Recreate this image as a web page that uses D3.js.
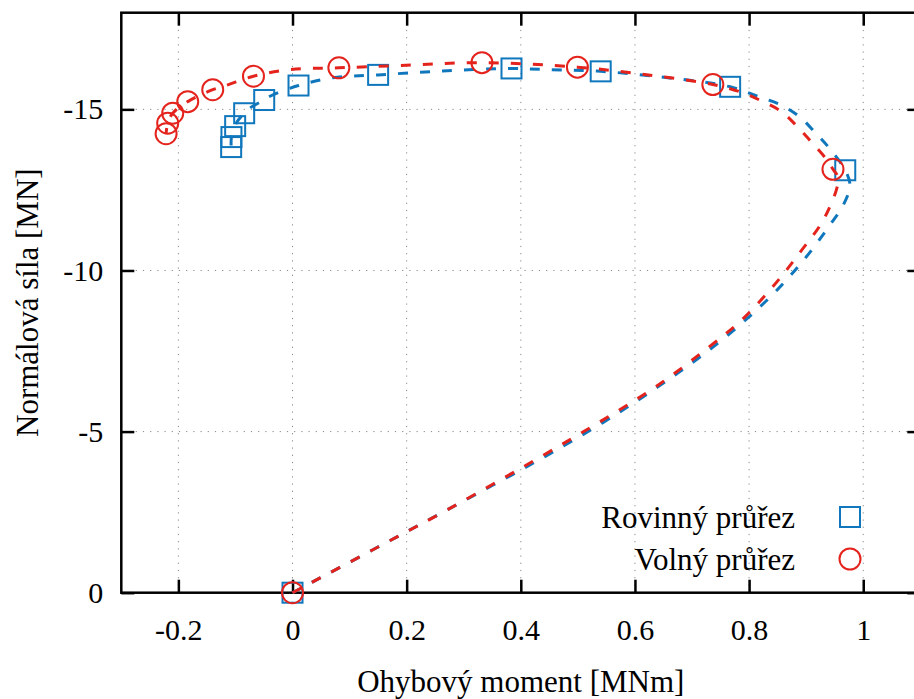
<!DOCTYPE html>
<html>
<head>
<meta charset="utf-8">
<script src="https://cdn.jsdelivr.net/npm/d3@7"></script>
<style>
  body { margin: 0; background: #fff; }
  svg text { font-family: "Liberation Serif", "Times New Roman", serif; }
</style>
</head>
<body>
<div id="chart"></div>
<script>
// ohybovy moment [MNm], normalova sila [MN]
var rovinnyLine = [
    [0, 0], [0.1408, -1.333], [0.2758, -2.617], [0.4436, -4.239], [0.5430, -5.271],
    [0.6072, -5.997], [0.6698, -6.750], [0.7312, -7.547], [0.7913, -8.425], [0.8469, -9.355],
    [0.8978, -10.369], [0.9434, -11.454], [0.9649, -12.022], [0.9767, -12.642], [0.9685, -13.11],
    [0.9404, -13.80], [0.9153, -14.29], [0.8878, -14.78], [0.8552, -15.14], [0.8189, -15.38],
    [0.7668, -15.70], [0.6733, -15.95], [0.540, -16.18], [0.4384, -16.24], [0.3837, -16.27],
    [0.2630, -16.19], [0.150, -16.07], [0.0707, -15.98], [0.0105, -15.74], [-0.0403, -15.40],
    [-0.0496, -15.29], [-0.0724, -15.07], [-0.0847, -14.88], [-0.0977, -14.60], [-0.1005, -14.48],
    [-0.107, -14.14], [-0.1075, -13.83]
]
var rovinnyPoints = [
    [0, 0], [0.9685, -13.11], [0.7668, -15.70], [0.540, -16.18], [0.3837, -16.27],
    [0.150, -16.07], [0.0105, -15.74], [-0.0496, -15.29], [-0.0847, -14.88],
    [-0.1005, -14.48], [-0.107, -14.14], [-0.1075, -13.83]
]

var volnyLine = [
    [0, 0], [0.1408, -1.333], [0.2758, -2.617], [0.4419, -4.291], [0.5413, -5.333],
    [0.6377, -6.409], [0.730, -7.628], [0.7896, -8.508], [0.8422, -9.510], [0.8890, -10.555],
    [0.9329, -11.659], [0.9562, -12.85], [0.947, -13.14], [0.9346, -13.47], [0.9095, -13.98],
    [0.8843, -14.47], [0.8552, -14.95], [0.8219, -15.26], [0.7868, -15.53], [0.7365, -15.77],
    [0.6313, -16.05], [0.4992, -16.31], [0.3319, -16.45], [0.1876, -16.36], [0.0812, -16.29],
    [-0.0023, -16.24], [-0.0684, -16.03], [-0.1134, -15.76], [-0.1398, -15.61], [-0.1836, -15.24],
    [-0.2099, -14.88], [-0.2187, -14.57], [-0.2215, -14.245]
]
var volnyPoints = [
    [0, 0], [0.947, -13.14], [0.7365, -15.77], [0.4992, -16.31], [0.3319, -16.45],
    [0.0812, -16.29], [-0.0684, -16.03], [-0.1398, -15.61], [-0.1836, -15.24],
    [-0.2099, -14.88], [-0.2187, -14.57], [-0.2215, -14.245]
]

var xTicks = [-0.2, 0, 0.2, 0.4, 0.6, 0.8, 1]
var yTicks = [0, -5, -10, -15]
var seriesNames = ["Rovinný průřez", "Volný průřez"]

var W = 914, H = 699
var pLeft = 121.3, pTop = 12.7, pRight = 920.3, pBottom = 592.7
var tickFont = 30, titleFont = 31
var blue = "#1077bd", red = "#e4231d"

var svg = d3.select("#chart").append("svg")
    .attr("width", W)
    .attr("height", H)

var x = d3.scaleLinear().domain([-0.3, 1.1]).range([pLeft, pRight])
var y = d3.scaleLinear().domain([0, -18]).range([pBottom, pTop])

// grid
var grid = svg.append("g")
    .attr("stroke", "#888")
    .attr("stroke-width", 1)
    .attr("stroke-dasharray", "1.2,6")
grid.selectAll(".gx").data(xTicks).enter().append("line")
    .attr("x1", d => x(d)).attr("x2", d => x(d))
    .attr("y1", pBottom).attr("y2", pTop)
grid.selectAll(".gy").data(yTicks.filter(d => d !== 0)).enter().append("line")
    .attr("y1", d => y(d)).attr("y2", d => y(d))
    .attr("x1", pLeft).attr("x2", pRight)

// axes, ticks inward on all four sides
function styleAxis(g) {
    g.select(".domain").remove()
    g.selectAll(".tick line").attr("stroke", "#000").attr("stroke-width", 2.5)
    g.selectAll(".tick text")
        .attr("fill", "#000")
        .style("font-size", tickFont + "px")
}

svg.append("g")
    .attr("transform", "translate(0," + pBottom + ")")
    .call(d3.axisBottom(x).tickValues(xTicks).tickSize(-13).tickPadding(26).tickFormat(d => String(d)))
    .call(styleAxis)
svg.append("g")
    .attr("transform", "translate(0," + pTop + ")")
    .call(d3.axisTop(x).tickValues(xTicks).tickSize(-13).tickFormat(""))
    .call(styleAxis)
svg.append("g")
    .attr("transform", "translate(" + pLeft + ",0)")
    .call(d3.axisLeft(y).tickValues(yTicks).tickSize(-13).tickPadding(18).tickFormat(d => String(d)))
    .call(styleAxis)
svg.append("g")
    .attr("transform", "translate(" + pRight + ",0)")
    .call(d3.axisRight(y).tickValues(yTicks).tickSize(-13).tickFormat(""))
    .call(styleAxis)

svg.append("rect")
    .attr("x", pLeft).attr("y", pTop)
    .attr("width", pRight - pLeft).attr("height", pBottom - pTop)
    .attr("fill", "none")
    .attr("stroke", "#000")
    .attr("stroke-width", 2.5)

// axis titles
svg.append("text")
    .attr("x", (pLeft + pRight) / 2)
    .attr("y", 692)
    .attr("text-anchor", "middle")
    .style("font-size", titleFont + "px")
    .text("Ohybový moment [MNm]")

svg.append("text")
    .attr("transform", "translate(38," + ((pTop + pBottom) / 2) + ") rotate(-90)")
    .attr("text-anchor", "middle")
    .style("font-size", titleFont + "px")
    .text("Normálová síla [MN]")

var line = d3.line()
    .x(d => x(d[0]))
    .y(d => y(d[1]))
    .curve(d3.curveCatmullRom.alpha(0.5))

var plot = svg.append("g")

// rovinny prurez
plot.append("path")
    .datum(rovinnyLine)
    .attr("d", line)
    .attr("fill", "none")
    .attr("stroke", blue)
    .attr("stroke-width", 3)
    .attr("stroke-dasharray", "10,12")

plot.selectAll(".sq").data(rovinnyPoints).enter().append("rect")
    .attr("x", d => x(d[0]) - 10)
    .attr("y", d => y(d[1]) - 10)
    .attr("width", 20)
    .attr("height", 20)
    .attr("fill", "none")
    .attr("stroke", blue)
    .attr("stroke-width", 2)

// volny prurez
plot.append("path")
    .datum(volnyLine)
    .attr("d", line)
    .attr("fill", "none")
    .attr("stroke", red)
    .attr("stroke-width", 3)
    .attr("stroke-dasharray", "10,12")

plot.selectAll(".ci").data(volnyPoints).enter().append("circle")
    .attr("cx", d => x(d[0]))
    .attr("cy", d => y(d[1]))
    .attr("r", 10.5)
    .attr("fill", "none")
    .attr("stroke", red)
    .attr("stroke-width", 2)

// legend
var legend = svg.append("g")
seriesNames.forEach(function (name, i) {
    var ly = 517 + i * 42
    legend.append("text")
        .attr("x", 795)
        .attr("y", ly + 11)
        .attr("text-anchor", "end")
        .style("font-size", titleFont + "px")
        .text(name)
    if (i === 0) {
        legend.append("rect")
            .attr("x", 840).attr("y", ly - 10)
            .attr("width", 20).attr("height", 20)
            .attr("fill", "none").attr("stroke", blue).attr("stroke-width", 2)
    } else {
        legend.append("circle")
            .attr("cx", 850).attr("cy", ly)
            .attr("r", 10.5)
            .attr("fill", "none").attr("stroke", red).attr("stroke-width", 2)
    }
})
</script>
</body>
</html>
